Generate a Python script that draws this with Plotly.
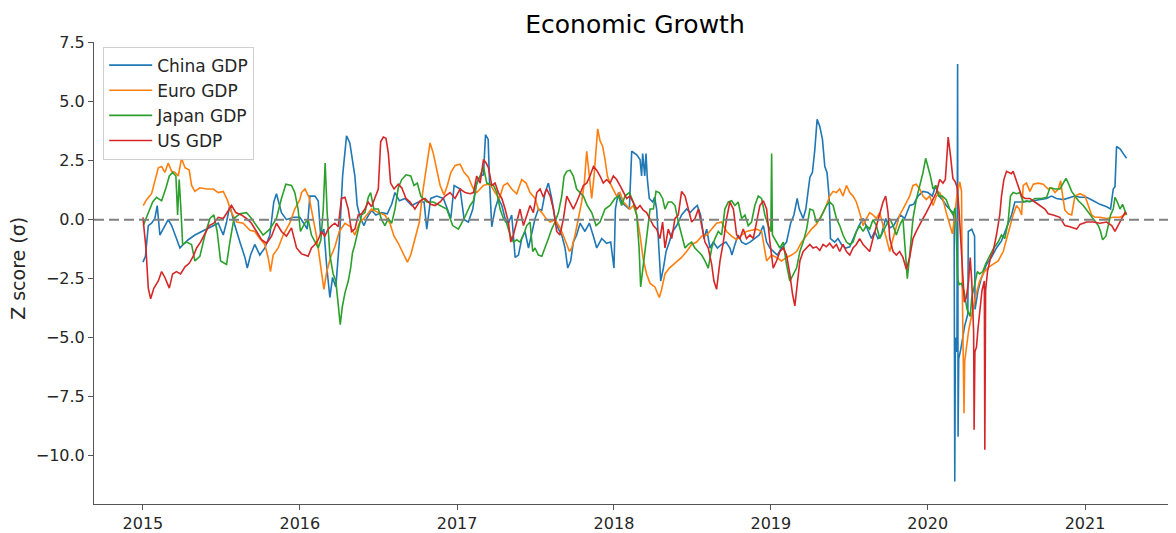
import datetime as dt
import plotly.graph_objects as go

# ---- data: time in decimal years, z-scores (sigma) ----
china_t = [2015.000, 2015.016, 2015.034, 2015.055, 2015.076, 2015.091, 2015.108, 2015.130, 2015.161, 2015.183, 2015.214, 2015.236, 2015.257, 2015.289, 2015.331, 2015.374, 2015.427, 2015.480, 2015.512, 2015.533, 2015.554, 2015.586, 2015.618, 2015.650, 2015.665, 2015.686, 2015.713, 2015.745, 2015.777, 2015.809, 2015.834, 2015.851, 2015.883, 2015.915, 2015.958,
           2016.000, 2016.025, 2016.047, 2016.064, 2016.096, 2016.117, 2016.132, 2016.153, 2016.170, 2016.191, 2016.208, 2016.229, 2016.251, 2016.272, 2016.297, 2016.318, 2016.335, 2016.350, 2016.365, 2016.386, 2016.408, 2016.429, 2016.456, 2016.484, 2016.520, 2016.556, 2016.584, 2016.605, 2016.633, 2016.669, 2016.711, 2016.754, 2016.790, 2016.807, 2016.832, 2016.870, 2016.913, 2016.945, 2016.960, 2016.981,
           2017.019, 2017.045, 2017.072, 2017.100, 2017.121, 2017.147, 2017.168, 2017.181, 2017.198, 2017.206, 2017.221, 2017.242, 2017.263, 2017.285, 2017.306, 2017.327, 2017.348, 2017.370, 2017.391, 2017.412, 2017.433, 2017.455, 2017.476, 2017.497, 2017.518, 2017.540, 2017.561, 2017.582, 2017.603, 2017.624, 2017.646, 2017.667, 2017.688, 2017.705, 2017.724, 2017.741, 2017.762, 2017.784, 2017.815, 2017.843, 2017.869, 2017.890, 2017.922, 2017.953, 2017.979,
           2018.000, 2018.009, 2018.028, 2018.049, 2018.070, 2018.098, 2018.113, 2018.145, 2018.166, 2018.176, 2018.183, 2018.196, 2018.204, 2018.213, 2018.225, 2018.247, 2018.259, 2018.272, 2018.285, 2018.298, 2018.315, 2018.332, 2018.353, 2018.374, 2018.400, 2018.431, 2018.463, 2018.485, 2018.506, 2018.531, 2018.552, 2018.574, 2018.591, 2018.612, 2018.633, 2018.659, 2018.686, 2018.714, 2018.739, 2018.752, 2018.771, 2018.792, 2018.814, 2018.841, 2018.867, 2018.898, 2018.926, 2018.952, 2018.973, 2018.994,
           2019.015, 2019.041, 2019.068, 2019.100, 2019.126, 2019.147, 2019.168, 2019.181, 2019.206, 2019.223, 2019.249, 2019.265, 2019.280, 2019.295, 2019.312, 2019.329, 2019.344, 2019.358, 2019.371, 2019.380, 2019.407, 2019.428, 2019.450, 2019.477, 2019.503, 2019.535, 2019.562, 2019.588, 2019.613, 2019.641, 2019.662, 2019.683, 2019.704, 2019.732, 2019.758, 2019.783, 2019.804, 2019.825, 2019.853, 2019.885, 2019.910, 2019.938, 2019.970,
           2020.002, 2020.029, 2020.051, 2020.072, 2020.093, 2020.118, 2020.144, 2020.160, 2020.168, 2020.172, 2020.176, 2020.186, 2020.190, 2020.193, 2020.197, 2020.210, 2020.235, 2020.255, 2020.258, 2020.280, 2020.298, 2020.301, 2020.320, 2020.340, 2020.363, 2020.373, 2020.405, 2020.437, 2020.469, 2020.501, 2020.533, 2020.554, 2020.575, 2020.607, 2020.671, 2020.713, 2020.755, 2020.787, 2020.819, 2020.862, 2020.904, 2020.936, 2020.968,
           2021.010, 2021.053, 2021.095, 2021.138, 2021.163, 2021.180, 2021.191, 2021.201, 2021.223, 2021.244, 2021.265]
china_z = [-1.8, -1.55, -0.25, -0.15, 0.05, 0.6, -0.65, -0.4, 0.0, -0.25, -0.8, -1.2, -1.05, -0.85, -0.65, -0.5, -0.3, -0.15, -0.65, -0.1, 0.6, -0.25, -0.95, -1.6, -2.05, -1.5, -1.05, -1.5, -1.2, -0.65, 0.75, 1.1, 0.3, 0.0, 0.1,
           0.1, -0.15, -0.4, 1.0, 1.0, 0.8, -0.65, -0.4, -1.9, -3.3, -2.45, -2.85, -0.95, 1.85, 3.55, 3.25, 2.6, 1.85, 0.6, 0.05, -0.25, 0.1, 0.4, 0.2, 0.3, 0.25, 0.65, 1.15, 0.8, 0.9, 0.6, 0.75, 0.75, -0.4, 0.9, 1.0, 0.9, 0.3, 0.05, 1.45,
           1.3, 0.0, -0.1, 0.45, 1.45, 1.85, 1.9, 3.6, 3.4, 1.7, -0.3, 0.45, 0.9, 0.6, 0.05, -0.15, 0.2, -1.6, -1.5, -0.8, -0.5, -1.2, -0.6, 0.05, 0.45, 0.4, 1.15, 1.55, 0.9, 0.05, -0.4, -0.65, -1.2, -2.05, -1.75, -0.95, -0.65, -0.15, -0.5, -0.15, -0.7, -1.2, -0.8, -1.0, -0.95,
           -2.05, 0.45, 1.15, 0.75, 0.6, 0.45, 2.9, 2.75, 2.55, 1.85, 2.8, 1.85, 2.8, 1.7, 0.9, 0.75, 0.95, 0.45, -1.2, -2.6, -2.05, -1.35, -0.95, -0.5, -0.25, 0.2, 0.45, 0.3, 0.45, 0.6, 0.2, -0.8, -0.4, -1.2, -0.95, -1.2, -1.05, -0.95, -1.2, -1.5, -1.05, -0.65, -0.95, -1.05, -0.95, -0.8, -0.65, -0.25, -0.95, -1.2,
           -1.35, -1.5, -1.2, -0.95, -0.15, 0.2, 0.9, 0.45, 0.05, 0.45, 1.8, 2.0, 2.95, 4.25, 3.95, 3.4, 2.25, 2.0, 1.0, -0.8, -0.95, -0.8, -1.05, -1.2, -1.15, -0.65, -0.25, 0.05, -0.35, -0.8, -0.5, -0.8, -0.65, 0.05, -0.35, -0.25, 0.0, 0.2, 0.05, 0.6, 0.65, 1.0, 1.2,
           1.15, 1.0, 1.45, 1.0, 0.85, 0.6, 0.4, 0.3, 0.0, -11.1, -5.0, -5.6, 6.6, -9.2, -5.9, -5.5, -4.5, -4.0, -0.5, -0.4, -0.7, -3.8, -3.0, -2.5, -2.1, -1.9, -1.6, -1.2, -0.9, -0.35, 0.2, 0.75, 0.75, 0.75, 0.8, 0.85, 0.9, 1.0, 0.9, 0.85, 0.95, 1.0, 0.95,
           0.95, 0.8, 0.65, 0.55, 0.45, 1.3, 1.4, 3.1, 3.0, 2.8, 2.6]

euro_t = [2015.002, 2015.023, 2015.055, 2015.076, 2015.098, 2015.119, 2015.140, 2015.161, 2015.183, 2015.204, 2015.225, 2015.246, 2015.268, 2015.295, 2015.310, 2015.331, 2015.363, 2015.406, 2015.448, 2015.480, 2015.512, 2015.537, 2015.565, 2015.597, 2015.639, 2015.682, 2015.713, 2015.745, 2015.777, 2015.798, 2015.813, 2015.830, 2015.862, 2015.894, 2015.936, 2015.968,
          2016.000, 2016.011, 2016.032, 2016.059, 2016.085, 2016.106, 2016.123, 2016.140, 2016.153, 2016.170, 2016.195, 2016.223, 2016.251, 2016.287, 2016.323, 2016.350, 2016.378, 2016.414, 2016.456, 2016.499, 2016.541, 2016.573, 2016.599, 2016.626, 2016.648, 2016.669, 2016.684, 2016.705, 2016.732, 2016.760, 2016.781, 2016.803, 2016.828, 2016.849, 2016.870, 2016.892, 2016.917, 2016.938, 2016.960, 2016.987,
          2017.019, 2017.045, 2017.072, 2017.100, 2017.125, 2017.147, 2017.168, 2017.193, 2017.215, 2017.242, 2017.270, 2017.295, 2017.321, 2017.348, 2017.380, 2017.412, 2017.440, 2017.465, 2017.497, 2017.518, 2017.540, 2017.567, 2017.593, 2017.624, 2017.652, 2017.673, 2017.694, 2017.716, 2017.731, 2017.752, 2017.773, 2017.794, 2017.811, 2017.826, 2017.843, 2017.858, 2017.873, 2017.886, 2017.896, 2017.911, 2017.928, 2017.943, 2017.958, 2017.975, 2017.996,
          2018.017, 2018.038, 2018.060, 2018.081, 2018.102, 2018.123, 2018.145, 2018.166, 2018.187, 2018.208, 2018.230, 2018.261, 2018.289, 2018.304, 2018.325, 2018.353, 2018.378, 2018.404, 2018.431, 2018.463, 2018.495, 2018.527, 2018.559, 2018.591, 2018.623, 2018.654, 2018.686, 2018.718, 2018.750, 2018.782, 2018.814, 2018.845, 2018.877, 2018.909, 2018.941, 2018.973,
          2019.005, 2019.036, 2019.068, 2019.100, 2019.132, 2019.164, 2019.196, 2019.228, 2019.259, 2019.290, 2019.312, 2019.333, 2019.354, 2019.375, 2019.397, 2019.418, 2019.439, 2019.460, 2019.482, 2019.503, 2019.524, 2019.545, 2019.566, 2019.588, 2019.609, 2019.630, 2019.651, 2019.673, 2019.694, 2019.715, 2019.736, 2019.758, 2019.779, 2019.800, 2019.821, 2019.842, 2019.864, 2019.885, 2019.906, 2019.927, 2019.949, 2019.970, 2019.991,
          2020.012, 2020.034, 2020.055, 2020.076, 2020.097, 2020.118, 2020.140, 2020.157, 2020.172, 2020.185, 2020.204, 2020.215, 2020.220, 2020.226, 2020.231, 2020.235, 2020.245, 2020.260, 2020.275, 2020.290, 2020.310, 2020.330, 2020.360, 2020.390, 2020.416, 2020.448, 2020.480, 2020.501, 2020.522, 2020.543, 2020.565, 2020.582, 2020.597, 2020.607, 2020.628, 2020.650, 2020.671, 2020.703, 2020.734, 2020.766, 2020.787, 2020.809, 2020.830, 2020.845, 2020.858, 2020.872, 2020.894, 2020.915, 2020.936, 2020.968,
          2021.000, 2021.021, 2021.042, 2021.064, 2021.095, 2021.138, 2021.180, 2021.223, 2021.254, 2021.265]
euro_z = [0.6, 0.85, 1.1, 1.65, 2.2, 2.25, 2.0, 2.4, 2.05, 2.0, 1.85, 2.6, 2.2, 2.1, 1.45, 1.2, 1.35, 1.3, 1.3, 1.15, 1.2, 0.85, 0.3, -0.1, -0.15, -0.45, -0.5, -0.8, -1.05, -1.6, -2.2, -1.5, -1.2, -0.65, -0.15, 0.45,
          0.85, 1.15, 1.3, 0.95, 0.05, -0.7, -1.5, -2.3, -2.95, -2.25, -1.6, -1.15, -0.5, -0.15, -0.3, -0.65, -0.15, 0.1, 0.45, 0.3, 0.2, -0.15, -0.7, -1.0, -1.3, -1.6, -1.8, -1.5, -0.8, -0.1, 1.15, 2.05, 3.25, 2.8, 2.1, 1.45, 1.05, 1.45, 2.0, 2.3,
          2.35, 2.0, 1.8, 1.35, 1.15, 1.3, 1.45, 1.5, 1.45, 1.15, 0.9, 1.45, 1.55, 1.3, 1.1, 1.7, 1.55, 1.15, 0.9, 0.45, 0.3, 0.05, -0.1, 0.0, -0.3, -0.6, -0.95, -1.35, -1.2, -0.65, 0.05, 0.75, 1.55, 2.9, 1.85, 0.9, 1.85, 2.8, 3.85, 3.35, 3.1, 2.55, 1.85, 1.55, 1.3,
          1.0, 1.15, 0.75, 0.6, 0.45, 0.6, 0.2, -0.65, -1.7, -2.3, -2.7, -2.85, -3.3, -2.95, -2.3, -2.05, -1.9, -1.75, -1.6, -1.35, -1.05, -0.95, -0.7, -0.65, -0.4, -0.15, -0.1, -0.5, -0.7, -0.85, -0.65, -0.5, -0.45, -0.4, -0.5, -1.75,
          -1.5, -1.6, -1.75, -1.6, -1.5, -1.35, -0.95, -0.65, -0.4, -0.2, 0.05, 0.3, 0.6, 1.0, 1.2, 1.15, 1.3, 1.0, 1.45, 1.15, 1.0, 0.75, 0.3, -0.25, 0.05, 0.3, 0.2, 0.05, 0.3, -0.25, -0.8, -1.35, -0.8, -0.25, 0.2, 0.45, 0.75, 1.0, 1.45, 1.5, 1.3, 1.0, 0.85,
          1.0, 0.6, 1.0, 1.15, 0.85, 0.3, -0.25, -0.6, 0.2, 1.0, 1.6, 1.2, -3.0, -6.2, -8.2, -6.0, -5.5, -4.7, -4.2, -3.7, -3.1, -2.6, -2.2, -2.0, -1.9, -1.75, -1.35, -0.8, -0.25, 0.2, 0.6, 0.45, 0.2, 1.45, 1.55, 1.2, 1.5, 1.55, 1.5, 1.3, 1.35, 1.15, 1.3, 1.65, 1.0, 0.4, 0.25, 0.2, 1.0, 1.1,
          1.0, 0.6, 0.2, 0.1, 0.1, 0.05, 0.1, 0.1, 0.2, 0.25]

japan_t = [2015.002, 2015.034, 2015.062, 2015.087, 2015.119, 2015.147, 2015.168, 2015.189, 2015.210, 2015.221, 2015.231, 2015.242, 2015.253, 2015.278, 2015.310, 2015.331, 2015.363, 2015.395, 2015.427, 2015.452, 2015.473, 2015.495, 2015.533, 2015.554, 2015.580, 2015.618, 2015.660, 2015.692, 2015.724, 2015.766, 2015.809, 2015.851, 2015.883, 2015.911, 2015.947, 2015.968, 2015.989,
           2016.004, 2016.032, 2016.053, 2016.074, 2016.096, 2016.117, 2016.134, 2016.149, 2016.161, 2016.174, 2016.191, 2016.212, 2016.229, 2016.244, 2016.257, 2016.270, 2016.287, 2016.308, 2016.323, 2016.335, 2016.350, 2016.372, 2016.393, 2016.414, 2016.435, 2016.450, 2016.471, 2016.499, 2016.520, 2016.541, 2016.563, 2016.584, 2016.605, 2016.626, 2016.648, 2016.675, 2016.705, 2016.726, 2016.747, 2016.769, 2016.807, 2016.849, 2016.892, 2016.934, 2016.972,
           2017.008, 2017.045, 2017.083, 2017.104, 2017.125, 2017.147, 2017.168, 2017.189, 2017.210, 2017.232, 2017.253, 2017.274, 2017.295, 2017.316, 2017.338, 2017.359, 2017.380, 2017.401, 2017.423, 2017.444, 2017.465, 2017.482, 2017.497, 2017.518, 2017.540, 2017.561, 2017.582, 2017.603, 2017.624, 2017.646, 2017.667, 2017.682, 2017.699, 2017.720, 2017.741, 2017.762, 2017.784, 2017.805, 2017.830, 2017.858, 2017.886, 2017.911, 2017.943, 2017.975,
           2018.006, 2018.028, 2018.049, 2018.070, 2018.098, 2018.123, 2018.145, 2018.160, 2018.170, 2018.187, 2018.208, 2018.230, 2018.251, 2018.268, 2018.289, 2018.310, 2018.325, 2018.346, 2018.368, 2018.389, 2018.410, 2018.431, 2018.453, 2018.474, 2018.495, 2018.516, 2018.538, 2018.559, 2018.580, 2018.601, 2018.623, 2018.644, 2018.665, 2018.686, 2018.707, 2018.729, 2018.750, 2018.771, 2018.792, 2018.814, 2018.835, 2018.856, 2018.877, 2018.898, 2018.920, 2018.941, 2018.962, 2018.983,
           2019.000, 2019.005, 2019.010, 2019.036, 2019.058, 2019.079, 2019.100, 2019.121, 2019.143, 2019.164, 2019.185, 2019.206, 2019.228, 2019.249, 2019.270, 2019.290, 2019.312, 2019.333, 2019.354, 2019.375, 2019.397, 2019.418, 2019.439, 2019.460, 2019.482, 2019.503, 2019.524, 2019.545, 2019.566, 2019.588, 2019.609, 2019.630, 2019.651, 2019.673, 2019.694, 2019.715, 2019.736, 2019.758, 2019.779, 2019.800, 2019.821, 2019.842, 2019.858, 2019.870, 2019.885, 2019.906, 2019.927, 2019.949, 2019.970, 2019.987,
           2020.002, 2020.017, 2020.034, 2020.051, 2020.072, 2020.093, 2020.118, 2020.140, 2020.161, 2020.174, 2020.180, 2020.190, 2020.200, 2020.215, 2020.230, 2020.250, 2020.270, 2020.280, 2020.300, 2020.315, 2020.330, 2020.350, 2020.370, 2020.395, 2020.420, 2020.448, 2020.469, 2020.490, 2020.511, 2020.526, 2020.543, 2020.565, 2020.586, 2020.607, 2020.628, 2020.650, 2020.681, 2020.724, 2020.756, 2020.777, 2020.809, 2020.841, 2020.858, 2020.879, 2020.894, 2020.915, 2020.936, 2020.958, 2020.989,
           2021.021, 2021.053, 2021.085, 2021.099, 2021.112, 2021.133, 2021.148, 2021.163, 2021.180, 2021.191, 2021.206, 2021.223, 2021.239, 2021.254, 2021.265]
japan_z = [-0.25, 0.3, 0.75, 0.95, 0.8, 1.35, 1.85, 2.0, 1.85, 0.2, 1.7, 0.45, -1.05, -0.95, -1.05, -1.75, -1.55, -0.65, 0.05, 0.2, -0.5, -1.75, -1.9, -0.95, 0.05, 0.25, 0.3, 0.05, -0.25, -0.65, -0.4, 0.05, 0.9, 1.5, 1.45, 1.15, 0.45,
           -0.5, -0.15, 0.0, -0.65, -0.95, -1.2, -0.85, 0.45, 2.4, 0.3, -1.5, -2.3, -2.6, -3.45, -4.45, -3.7, -3.1, -2.6, -2.05, -1.4, -1.05, -0.4, 0.2, 0.3, 0.95, 1.15, 0.45, 0.45, 0.0, -0.25, 0.05, -0.15, 0.45, 1.35, 1.7, 1.9, 1.85, 1.45, 1.55, 1.0, 0.75, 0.75, 0.6, 0.45, -0.25,
           -0.4, 0.05, 0.6, 0.8, 1.55, 1.85, 2.25, 1.55, 1.5, 1.45, 1.15, 0.45, 0.05, -0.15, -0.65, -0.95, -0.85, -0.95, -0.65, -0.25, -0.1, -1.35, -1.2, -1.5, -1.55, -1.2, -0.8, -0.4, -0.1, 0.3, 1.0, 1.85, 2.05, 2.1, 1.85, 1.3, 1.15, 1.0, 0.6, 0.3, -0.25, -0.1, 0.45, 0.6,
           0.9, 1.0, 0.6, 1.0, 1.15, 0.75, 0.2, -1.2, -2.85, -1.9, -0.8, 0.45, 0.45, 1.2, 1.15, 0.9, 0.45, 0.75, 0.75, 0.6, -0.1, -0.65, -1.2, -1.05, -0.95, -1.2, -1.35, -1.5, -1.75, -2.05, -1.2, -0.8, -0.5, -0.65, 0.45, 0.75, 0.8, 0.6, 0.75, 0.05, 0.2, -0.25, -0.1, 0.6, 1.0, 0.9, 0.2, -0.25,
           -0.5, 2.8, -0.65, -0.95, -1.2, -0.95, -1.9, -2.6, -2.3, -2.05, -1.35, -0.95, -0.4, 0.45, 0.4, -0.1, 0.0, 0.3, 0.6, 0.75, 0.6, 0.05, -0.25, -0.65, -0.95, -1.05, -0.95, -0.5, -0.25, -0.5, -0.25, -0.4, 0.0, -0.25, -0.8, -0.5, -0.25, 0.05, -0.25, -0.65, -0.25, 0.05, -1.4, -2.5, -1.5, 0.05, 0.85, 1.45, 2.0, 2.6,
           2.25, 1.85, 1.3, 1.45, 1.0, 1.0, 0.85, 0.45, 0.2, 0.5, -0.3, -2.5, -2.75, -2.7, -3.0, -3.8, -4.1, -3.3, -2.7, -2.2, -2.3, -2.2, -1.85, -1.5, -1.2, -0.95, -0.65, -0.8, -0.1, 1.0, 1.15, 1.1, 1.15, 0.75, 0.8, 0.75, 0.9, 0.9, 0.95, 1.35, 1.3, 1.3, 1.5, 1.75, 1.55, 1.2, 1.0, 0.8, 0.6,
           0.3, 0.05, -0.25, -0.5, -0.85, -0.7, -0.25, 0.2, 0.45, 0.95, 0.75, 0.45, 0.65, 0.4, 0.2]

us_t = [2015.000, 2015.019, 2015.034, 2015.049, 2015.070, 2015.098, 2015.119, 2015.140, 2015.168, 2015.189, 2015.214, 2015.240, 2015.268, 2015.295, 2015.321, 2015.342, 2015.367, 2015.395, 2015.422, 2015.452, 2015.480, 2015.512, 2015.544, 2015.565, 2015.592, 2015.628, 2015.660, 2015.692, 2015.724, 2015.756, 2015.788, 2015.820, 2015.851, 2015.883, 2015.915, 2015.947, 2015.979,
        2016.011, 2016.032, 2016.053, 2016.074, 2016.096, 2016.117, 2016.138, 2016.159, 2016.180, 2016.202, 2016.223, 2016.244, 2016.265, 2016.287, 2016.308, 2016.329, 2016.350, 2016.372, 2016.393, 2016.414, 2016.435, 2016.456, 2016.478, 2016.499, 2016.514, 2016.531, 2016.548, 2016.563, 2016.577, 2016.599, 2016.626, 2016.648, 2016.675, 2016.701, 2016.732, 2016.764, 2016.796, 2016.832, 2016.860, 2016.892, 2016.924, 2016.955, 2016.987,
        2017.019, 2017.051, 2017.083, 2017.104, 2017.125, 2017.147, 2017.168, 2017.185, 2017.200, 2017.221, 2017.242, 2017.263, 2017.285, 2017.306, 2017.327, 2017.342, 2017.359, 2017.380, 2017.401, 2017.423, 2017.444, 2017.465, 2017.486, 2017.508, 2017.529, 2017.550, 2017.571, 2017.593, 2017.614, 2017.635, 2017.656, 2017.678, 2017.699, 2017.720, 2017.741, 2017.762, 2017.784, 2017.805, 2017.826, 2017.847, 2017.869, 2017.890, 2017.911, 2017.932, 2017.953, 2017.975, 2017.996,
        2018.017, 2018.038, 2018.060, 2018.081, 2018.102, 2018.123, 2018.145, 2018.166, 2018.187, 2018.208, 2018.230, 2018.251, 2018.272, 2018.293, 2018.310, 2018.325, 2018.346, 2018.368, 2018.389, 2018.410, 2018.431, 2018.453, 2018.474, 2018.495, 2018.516, 2018.538, 2018.559, 2018.580, 2018.601, 2018.623, 2018.637, 2018.654, 2018.676, 2018.697, 2018.718, 2018.739, 2018.761, 2018.782, 2018.803, 2018.824, 2018.845, 2018.867, 2018.888, 2018.909, 2018.930, 2018.952, 2018.973, 2018.994,
        2019.015, 2019.036, 2019.058, 2019.079, 2019.100, 2019.121, 2019.138, 2019.153, 2019.168, 2019.185, 2019.206, 2019.228, 2019.249, 2019.269, 2019.290, 2019.312, 2019.333, 2019.354, 2019.375, 2019.397, 2019.418, 2019.439, 2019.460, 2019.482, 2019.503, 2019.524, 2019.545, 2019.566, 2019.588, 2019.609, 2019.630, 2019.651, 2019.673, 2019.694, 2019.715, 2019.732, 2019.747, 2019.758, 2019.779, 2019.800, 2019.821, 2019.842, 2019.864, 2019.885, 2019.906, 2019.927, 2019.949, 2019.970, 2019.991,
        2020.012, 2020.034, 2020.055, 2020.076, 2020.097, 2020.112, 2020.130, 2020.145, 2020.160, 2020.175, 2020.188, 2020.200, 2020.210, 2020.220, 2020.233, 2020.245, 2020.260, 2020.270, 2020.280, 2020.292, 2020.295, 2020.300, 2020.310, 2020.320, 2020.330, 2020.345, 2020.360, 2020.363, 2020.368, 2020.380, 2020.400, 2020.416, 2020.437, 2020.458, 2020.469, 2020.484, 2020.501, 2020.522, 2020.532, 2020.543, 2020.560, 2020.581, 2020.597, 2020.618, 2020.650, 2020.681, 2020.713, 2020.745, 2020.766, 2020.798, 2020.840, 2020.872, 2020.904, 2020.947, 2020.968,
        2021.010, 2021.053, 2021.095, 2021.138, 2021.170, 2021.191, 2021.212, 2021.233, 2021.254, 2021.265]
us_z = [0.1, -1.2, -2.9, -3.35, -2.9, -2.6, -2.2, -2.45, -2.9, -2.3, -2.2, -2.3, -2.0, -1.85, -1.55, -1.2, -0.95, -0.6, -0.25, -0.15, 0.1, 0.05, 0.4, 0.6, 0.3, 0.2, 0.05, -0.15, -0.5, -0.85, -1.0, -0.7, -0.15, -0.5, -0.7, -0.35, -1.2,
        -1.45, -1.5, -1.55, -1.2, -1.05, -0.85, -0.5, -0.7, -0.4, -0.25, -0.15, -0.3, 0.9, 0.95, 0.45, -0.5, -0.4, 0.2, 0.25, 0.45, 0.75, 0.55, 0.9, 1.3, 3.3, 3.5, 3.45, 2.8, 1.55, 1.3, 1.5, 1.35, 0.9, 0.75, 0.45, 0.8, 0.9, 0.65, 0.6, 0.75, 1.0, 1.15, 0.9,
        1.3, 1.15, 1.1, 1.15, 1.85, 1.55, 2.55, 2.4, 2.2, 1.45, 1.55, 1.15, 0.9, 0.45, -0.1, -0.95, -0.65, -0.1, 0.45, -0.25, 0.2, 0.6, 0.3, 1.15, 1.3, 0.95, 1.3, 1.0, 0.45, -0.5, -0.65, 0.05, 1.0, 0.75, 0.45, 0.75, 1.1, 1.45, 1.55, 1.85, 2.25, 2.1, 1.85, 1.55, 1.7, 1.55, 1.85,
        1.7, 1.45, 1.15, 0.9, 1.0, 0.75, 0.45, 0.6, 0.4, 0.3, 0.05, -0.25, -0.4, -0.8, -0.1, -1.2, -0.4, -0.8, 0.05, 0.2, 1.2, 1.0, 0.45, -0.1, 0.05, 0.45, -0.25, -0.95, -1.2, -1.9, -2.6, -2.95, -1.75, -0.95, 0.05, 0.75, 0.45, -0.65, -0.8, -0.4, -0.8, -0.65, -0.8, -0.1, 0.6, 0.8, 0.45, -0.95,
        -2.05, -1.75, -1.35, -1.2, -1.5, -2.3, -3.15, -3.65, -2.85, -1.75, -1.35, -1.2, -1.05, -1.2, -1.15, -1.3, -1.05, -1.15, -1.0, -1.2, -1.05, -1.35, -1.05, -1.35, -1.5, -1.2, -1.05, -0.8, -1.05, -1.2, -1.35, -0.8, -0.25, 0.3, 0.75, 1.0, 0.3, -0.8, -1.35, -1.5, -1.35, -1.6, -2.1, -1.6, -0.8, -0.5, -0.25, 0.05, 0.3,
        0.6, 0.85, 1.15, 1.7, 1.55, 1.7, 3.5, 2.7, 1.75, 1.6, 1.35, 0.3, -0.8, -2.2, -3.5, -3.3, -2.6, -1.6, -2.6, -4.8, -8.9, -5.6, -5.4, -4.6, -4.0, -3.0, -2.6, -9.75, -3.0, -2.2, -1.6, -1.35, -0.65, 0.2, 1.0, 1.7, 2.05, 2.0, 1.95, 2.05, 1.7, 1.3, 1.0, 0.9, 0.9, 0.75, 0.6, 0.45, 0.25, 0.2, 0.1, -0.25, -0.3, -0.4, -0.2,
        -0.1, -0.1, -0.15, -0.1, -0.25, -0.5, -0.25, 0.05, 0.3, 0.25]

series_names = ["China GDP", "Euro GDP", "Japan GDP", "US GDP"]
series_colors = ["#1f77b4", "#ff7f0e", "#2ca02c", "#d62728"]
y_ticks = [-10.0, -7.5, -5.0, -2.5, 0.0, 2.5, 5.0, 7.5]
x_tick_years = [2015, 2016, 2017, 2018, 2019, 2020, 2021]


def to_date(y):
    yr = int(y)
    start = dt.datetime(yr, 1, 1)
    end = dt.datetime(yr + 1, 1, 1)
    return start + (end - start) * (y - yr)


FONT = "DejaVu Sans"
# the page body adds an 8px offset, so the figure is 8px smaller than the window
W, H = 1168, 525

fig = go.Figure()
for i, (name, color, ts, zs) in enumerate(zip(series_names, series_colors,
                                             [china_t, euro_t, japan_t, us_t],
                                             [china_z, euro_z, japan_z, us_z])):
    fig.add_trace(go.Scatter(
        x=[to_date(t) for t in ts], y=zs, mode="lines", name=name,
        legendgroup=f"g{i}",
        line=dict(color=color, width=1.6),
    ))

fig.add_shape(type="line", xref="paper", x0=0, x1=1, yref="y", y0=0, y1=0,
              line=dict(color="#808080", width=2, dash="10px,5px"), layer="above")

fig.update_layout(
    width=W, height=H,
    margin=dict(l=86, r=0, t=34, b=23),
    paper_bgcolor="white", plot_bgcolor="white",
    font=dict(family=FONT, color="#262626", size=16),
    title=dict(text="Economic Growth", x=0.5, xref="paper", xanchor="center",
               y=1 - 16 / H, yref="container", yanchor="middle",
               font=dict(family=FONT, size=25, color="#000000")),
    showlegend=True,
    legend=dict(x=0.0085, y=0.99, xanchor="left", yanchor="top",
                bgcolor="rgba(255,255,255,0.85)", bordercolor="#d0d0d0", borderwidth=1,
                font=dict(family=FONT, size=17, color="#262626"),
                tracegroupgap=0, itemwidth=43),
    xaxis=dict(
        type="date",
        range=[to_date(2014.688), to_date(2021.580)],
        tickvals=[dt.datetime(y, 1, 1) for y in x_tick_years],
        ticktext=[str(y) for y in x_tick_years],
        showgrid=False, zeroline=False,
        showline=True, linecolor="#555555", linewidth=1,
        ticks="outside", ticklen=5, tickcolor="#555555",
        tickfont=dict(size=16),
    ),
    yaxis=dict(
        range=[-12.05, 7.53],
        tickvals=y_ticks,
        ticktext=[("\u2212" if v < 0 else "") + f"{abs(v):.1f}" for v in y_ticks],
        showgrid=False, zeroline=False,
        showline=True, linecolor="#555555", linewidth=1,
        ticks="outside", ticklen=5, tickcolor="#555555",
        tickfont=dict(size=16),
    ),
    annotations=[dict(text="Z score (\u03c3)", textangle=-90, showarrow=False,
                      xref="paper", yref="paper", x=(18 - 94) / 1082, y=0.509,
                      xanchor="center", yanchor="middle",
                      font=dict(family=FONT, size=19, color="#262626"))],
)

fig.write_html("out.html")
